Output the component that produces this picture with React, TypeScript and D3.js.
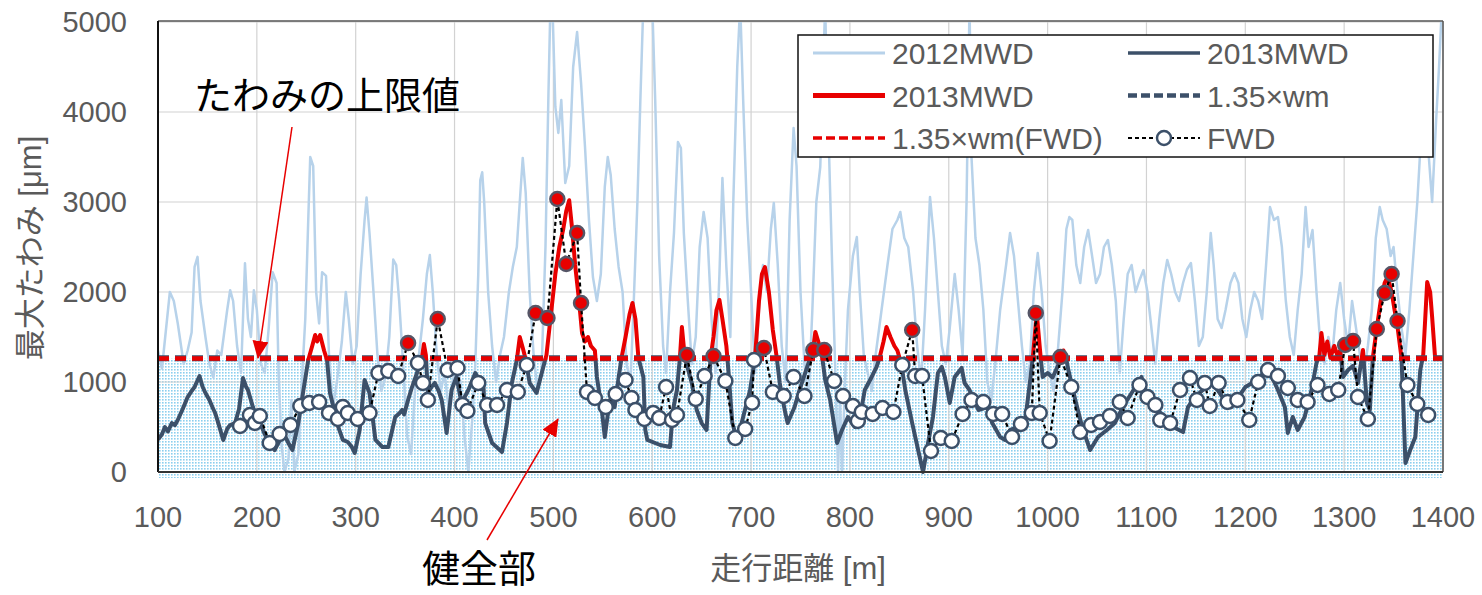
import * as d3 from "d3";

// distance [m] / deflection [um]
const xTicks = [100, 200, 300, 400, 500, 600, 700, 800, 900, 1000, 1100, 1200, 1300, 1400];
const yTicks = [0, 1000, 2000, 3000, 4000, 5000];
const wmLimit = 1265;
const wmLimitFwd = 1260;

const mwd2012 = [
  [100, 1350], [104, 1150], [112, 2000], [116, 1900], [120, 1650], [126, 1200], [130, 1350], [134, 1550],
  [137, 2280], [140, 2390], [143, 1900], [148, 1500], [152, 1200], [156, 1050], [160, 1350], [164, 1300],
  [170, 1800], [173, 2020], [176, 1900], [180, 1400], [184, 1100], [188, 2320], [191, 1700], [194, 1500],
  [197, 2020], [200, 1800], [204, 1200], [208, 1100], [212, 1600], [216, 2220], [220, 2100], [222, 1100],
  [225, 300], [228, 0], [232, 150], [235, 800], [238, 0], [242, 200], [246, 1100], [249, 1700],
  [252, 2800], [254, 3500], [257, 3400], [260, 2000], [263, 1650], [266, 2220], [270, 2180], [273, 1300],
  [277, 720], [281, 1000], [286, 1450], [290, 2000], [293, 1700], [297, 1200], [301, 1400], [305, 2200],
  [309, 2800], [311, 3050], [314, 2650], [318, 2000], [322, 1300], [326, 900], [330, 1050], [334, 1500],
  [338, 2360], [341, 2300], [344, 1900], [348, 1200], [352, 400], [356, 200], [360, 900], [364, 1300],
  [368, 1700], [372, 2200], [375, 2410], [378, 2000], [382, 1300], [386, 900], [390, 1100], [394, 700],
  [398, 1000], [402, 1200], [406, 1000], [410, 400], [414, 0], [418, 600], [421, 1200], [424, 2200],
  [426, 3240], [428, 3330], [430, 3000], [434, 2000], [438, 1400], [442, 1000], [446, 1300], [450, 1500],
  [455, 2000], [459, 2280], [463, 2500], [466, 3000], [469, 3490], [472, 3100], [476, 2000], [480, 1300],
  [484, 900], [488, 1100], [492, 2500], [495, 4200], [497, 5200], [499, 5200], [502, 4056], [505, 3767],
  [508, 4133], [512, 3211], [516, 3400], [520, 4500], [524, 4889], [528, 4322], [532, 3611], [536, 2800],
  [540, 2167], [544, 1900], [548, 2200], [552, 3167], [555, 3500], [558, 3300], [562, 2700], [566, 2278],
  [570, 2000], [574, 1200], [578, 1000], [581, 1800], [585, 3000], [588, 4133], [591, 5200], [596, 5200],
  [600, 5200], [603, 4133], [607, 2400], [611, 1400], [614, 1100], [618, 2000], [622, 2656], [626, 3667],
  [629, 3600], [632, 2650], [636, 1900], [640, 1200], [644, 1500], [648, 2500], [652, 2890], [656, 2600],
  [660, 1700], [664, 1100], [668, 2200], [671, 3267], [675, 2278], [679, 1500], [682, 3000], [686, 4500],
  [689, 5200], [692, 4133], [696, 2833], [700, 2000], [704, 1100], [708, 1800], [712, 2300], [716, 2000],
  [720, 2700], [723, 2989], [727, 2300], [731, 1400], [735, 1000], [739, 2800], [743, 3822], [746, 3400],
  [750, 2000], [754, 1200], [758, 800], [762, 1800], [766, 3000], [770, 3389], [773, 4500], [775, 5200],
  [777, 4000], [779, 3500], [782, 2300], [785, 1200], [788, 0], [790, 800], [792, 0], [795, 1000],
  [798, 1800], [803, 2400], [807, 2611], [810, 2000], [814, 1300], [818, 1100], [822, 900], [826, 1300],
  [832, 1800], [838, 2300], [843, 2700], [848, 2800], [851, 2889], [855, 2600], [859, 2500], [864, 2000],
  [868, 1400], [872, 1000], [876, 1800], [881, 3056], [885, 2600], [889, 2000], [893, 1400], [897, 1200],
  [901, 1600], [906, 2200], [910, 1800], [914, 1300], [918, 3000], [921, 5200], [923, 3500], [927, 2600],
  [931, 2300], [935, 1800], [939, 1000], [943, 800], [947, 1200], [952, 1800], [958, 2300], [962, 2656],
  [966, 2400], [970, 1900], [974, 1400], [978, 1000], [982, 1200], [986, 2000], [990, 2433], [994, 2000],
  [998, 1400], [1002, 1100], [1006, 900], [1010, 1300], [1015, 2000], [1019, 2700], [1022, 2833], [1025, 2800],
  [1029, 2300], [1033, 2100], [1037, 2500], [1041, 2689], [1045, 2400], [1049, 2100], [1053, 2200], [1057, 2500],
  [1061, 2578], [1065, 2300], [1069, 1900], [1073, 1100], [1077, 1700], [1081, 2200], [1085, 2300], [1089, 2000],
  [1093, 2133], [1097, 2244], [1101, 2000], [1105, 1600], [1109, 1200], [1113, 1700], [1117, 2100], [1121, 2356],
  [1125, 2200], [1129, 2000], [1133, 1900], [1137, 2100], [1141, 2250], [1145, 2322], [1149, 1900], [1153, 1400],
  [1157, 1500], [1161, 2000], [1165, 2656], [1168, 2300], [1172, 1700], [1176, 1600], [1180, 1800], [1185, 2100],
  [1189, 2211], [1193, 2100], [1197, 1700], [1201, 1500], [1205, 1800], [1209, 2000], [1213, 1900], [1217, 1700],
  [1221, 2300], [1225, 2944], [1229, 2800], [1233, 2833], [1237, 2500], [1241, 1900], [1245, 1500], [1249, 1300],
  [1253, 1800], [1257, 2200], [1261, 2944], [1264, 2500], [1268, 2689], [1272, 2000], [1276, 1400], [1280, 1200],
  [1284, 1500], [1288, 1300], [1292, 1800], [1296, 2100], [1300, 1700], [1304, 1400], [1308, 1900], [1312, 1600],
  [1316, 1300], [1320, 1100], [1324, 1400], [1328, 1800], [1332, 2600], [1336, 2944], [1339, 2800], [1343, 2700],
  [1347, 2400], [1350, 2500], [1354, 2000], [1358, 1600], [1362, 1300], [1366, 1800], [1370, 2400], [1374, 3000],
  [1377, 3578], [1379, 4689], [1382, 4200], [1385, 3600], [1389, 3000], [1393, 3900], [1396, 4500], [1399, 5200],
];

const mwd2013 = [
  [100, 360], [104, 420], [107, 500], [110, 450], [114, 544], [117, 520], [120, 578], [125, 700], [130, 833],
  [134, 900], [137, 944], [142, 1067], [145, 950], [148, 878], [152, 800], [155, 722], [158, 650], [161, 544],
  [166, 356], [170, 480], [173, 522], [178, 544], [182, 700], [186, 1044], [189, 950], [191, 911], [196, 722],
  [200, 600], [205, 500], [208, 420], [211, 356], [218, 244], [223, 350], [228, 411], [232, 320], [236, 244],
  [242, 544], [247, 900], [252, 1244], [256, 1400], [259, 1522], [261, 1450], [264, 1522], [268, 1350],
  [271, 1244], [274, 878], [278, 700], [281, 544], [287, 356], [292, 333], [296, 280], [299, 211], [304, 467],
  [309, 1022], [314, 878], [320, 356], [327, 278], [333, 278], [340, 611], [344, 650], [347, 689], [349, 640],
  [353, 800], [357, 944], [362, 1100], [367, 1267], [369, 1422], [371, 1300], [373, 878], [377, 950], [380, 989],
  [384, 900], [387, 800], [392, 433], [397, 911], [402, 1056], [407, 767], [414, 911], [421, 1100], [426, 1000],
  [429, 1022], [431, 544], [438, 322], [448, 222], [453, 544], [458, 989], [463, 1244], [466, 1500], [469, 1380],
  [472, 1250], [476, 989], [483, 878], [489, 1133], [493, 1300], [497, 1700], [502, 2200], [506, 2500], [510, 2700],
  [513, 2900], [516, 3020], [519, 2700], [522, 2300], [526, 1900], [529, 1544], [532, 1450], [535, 1500],
  [538, 1400], [542, 1350], [544, 1056], [549, 689], [552, 389], [557, 800], [562, 722], [566, 1050], [569, 1270],
  [573, 1500], [577, 1750], [580, 1878], [583, 1700], [586, 1270], [591, 1056], [593, 467], [595, 356], [608, 300],
  [618, 278], [621, 689], [625, 911], [628, 1270], [630, 1611], [633, 1270], [640, 989], [645, 689], [650, 544],
  [655, 467], [659, 1270], [662, 1500], [665, 1800], [668, 1911], [671, 1700], [675, 1400], [677, 1133], [681, 544],
  [686, 356], [692, 611], [699, 911], [704, 1270], [708, 1900], [711, 2200], [714, 2278], [718, 2000], [722, 1578],
  [726, 1270], [729, 989], [734, 689], [737, 544], [744, 722], [749, 911], [758, 1211], [762, 1300], [765, 1556],
  [768, 1450], [772, 1270], [775, 1022], [780, 800], [787, 322], [792, 467], [798, 611], [805, 500], [812, 722],
  [815, 911], [822, 1056], [827, 1167], [830, 1270], [834, 1450], [837, 1611], [841, 1500], [845, 1400], [848, 1350],
  [852, 1200], [856, 911], [863, 544], [869, 244], [874, 0], [879, 322], [884, 611], [889, 1100], [893, 1167],
  [896, 1056], [901, 767], [906, 1056], [913, 1156], [916, 989], [921, 911], [930, 689], [939, 722], [944, 544],
  [952, 389], [957, 356], [962, 467], [970, 500], [977, 544], [982, 989], [985, 1270], [989, 1767], [993, 1270],
  [995, 1056], [1000, 1100], [1005, 1050], [1010, 1167], [1013, 1250], [1016, 1350], [1019, 1250], [1021, 1133],
  [1028, 800], [1035, 500], [1043, 244], [1051, 389], [1060, 467], [1068, 544], [1076, 722], [1085, 878],
  [1095, 1056], [1101, 833], [1110, 722], [1119, 578], [1127, 500], [1137, 444], [1142, 722], [1149, 833],
  [1157, 911], [1166, 989], [1172, 911], [1179, 800], [1186, 722], [1193, 833], [1200, 944], [1207, 989],
  [1213, 1056], [1220, 1100], [1227, 1056], [1233, 911], [1240, 722], [1243, 433], [1248, 611], [1253, 467],
  [1260, 611], [1267, 911], [1272, 1211], [1275, 1300], [1277, 1544], [1280, 1300], [1283, 1450], [1286, 1270],
  [1290, 1400], [1293, 1300], [1296, 1350], [1299, 1056], [1304, 1133], [1309, 1180], [1314, 989], [1319, 1356],
  [1323, 767], [1326, 689], [1329, 1270], [1333, 1600], [1337, 1900], [1341, 2100], [1344, 2167], [1348, 2000],
  [1351, 1800], [1354, 1611], [1358, 1270], [1360, 700], [1362, 100], [1367, 250], [1372, 389], [1377, 1133],
  [1380, 1300], [1382, 1700], [1384, 2111], [1387, 2000], [1389, 1722], [1392, 1270], [1399, 1270],
];

const fwd = [
  [183, 511], [193, 633], [198, 544], [203, 622], [213, 322], [223, 422], [234, 522], [244, 733], [253, 767],
  [263, 778], [273, 656], [282, 589], [287, 722], [292, 656], [302, 589], [314, 656], [323, 1100], [333, 1122],
  [343, 1067], [353, 1433], [363, 1211], [368, 989], [373, 800], [383, 1700], [393, 1133], [403, 1156], [408, 744],
  [413, 678], [424, 989], [433, 744], [443, 744], [453, 911], [464, 889], [473, 1189], [482, 1767], [494, 1711],
  [504, 3033], [513, 2311], [524, 2656], [528, 1878], [534, 889], [542, 822], [553, 722], [563, 867], [573, 1022],
  [579, 822], [583, 689], [592, 589], [601, 656], [607, 600], [614, 944], [620, 578], [625, 633], [635, 1300],
  [644, 811], [653, 1067], [662, 1289], [674, 1011], [684, 378], [694, 478], [701, 770], [703, 1244], [713, 1378],
  [722, 889], [733, 844], [743, 1056], [754, 844], [763, 1356], [774, 1356], [784, 1011], [793, 844], [803, 733],
  [808, 567], [812, 667], [823, 644], [833, 711], [844, 667], [853, 1189], [863, 1578], [866, 1067], [873, 1067],
  [882, 233], [892, 378], [903, 344], [914, 644], [923, 800], [935, 778], [945, 644], [954, 644], [964, 389],
  [973, 533], [984, 656], [988, 1767], [992, 656], [1002, 344], [1013, 1278], [1024, 944], [1033, 444], [1044, 522],
  [1053, 556], [1063, 622], [1073, 778], [1081, 600], [1093, 967], [1101, 833], [1109, 744], [1114, 578],
  [1124, 544], [1134, 911], [1144, 1044], [1151, 800], [1159, 989], [1164, 733], [1173, 989], [1182, 778],
  [1192, 800], [1204, 578], [1213, 1000], [1223, 1133], [1233, 1067], [1243, 933], [1253, 800], [1263, 778],
  [1273, 967], [1285, 867], [1294, 911], [1301, 1411], [1309, 1456], [1314, 833], [1324, 589], [1333, 1589],
  [1341, 1989], [1348, 2200], [1354, 1678], [1364, 967], [1374, 756], [1385, 633],
];

const NAVY = "#3c5069";
const RED = "#e80000";
const LIGHT = "#b7d2ea";
const GRAY = "#5a5a5a";

const legendItems = [
  { label: "2012MWD", col: 0, row: 0, kind: "light" },
  { label: "2013MWD", col: 1, row: 0, kind: "navy" },
  { label: "2013MWD", col: 0, row: 1, kind: "red" },
  { label: "1.35×wm", col: 1, row: 1, kind: "navyDash" },
  { label: "1.35×wm(FWD)", col: 0, row: 2, kind: "redDash" },
  { label: "FWD", col: 1, row: 2, kind: "fwd" },
];

export default function App() {
  const x = d3.scaleLinear().domain([100, 1400]).range([158, 1443]);
  const y = d3.scaleLinear().domain([0, 5000]).range([472, 22]);
  const line = d3.line<number[]>().x((d) => x(d[0])).y((d) => y(d[1]));
  const [x0, x1] = x.range();
  const yT = y(wmLimitFwd);

  const legendLine = (kind: string, lx: number, ly: number) => {
    const x2 = lx + 72;
    if (kind === "light") return <line x1={lx} x2={x2} y1={ly} y2={ly} stroke={LIGHT} strokeWidth={3} />;
    if (kind === "navy") return <line x1={lx} x2={x2} y1={ly} y2={ly} stroke={NAVY} strokeWidth={3.5} />;
    if (kind === "red") return <line x1={lx} x2={x2} y1={ly} y2={ly} stroke={RED} strokeWidth={5} />;
    if (kind === "navyDash")
      return <line x1={lx} x2={x2} y1={ly} y2={ly} stroke={NAVY} strokeWidth={4.5} strokeDasharray="9,4" />;
    if (kind === "redDash")
      return <line x1={lx} x2={x2} y1={ly} y2={ly} stroke={RED} strokeWidth={3.5} strokeDasharray="9,4" />;
    return (
      <g>
        <line x1={lx} x2={x2} y1={ly} y2={ly} stroke="#000" strokeWidth={2} strokeDasharray="4,3" />
        <circle cx={lx + 36} cy={ly} r={7} fill="#fff" stroke={NAVY} strokeWidth={2.5} />
      </g>
    );
  };

  return (
    <svg
      width={1482}
      height={595}
      style={{ position: "absolute", left: 0, top: 0, background: "#fff" }}
      fontFamily="'Liberation Sans', Arial, 'Noto Sans CJK JP', sans-serif"
    >
      <defs>
        <pattern id="dots" width={3} height={3} patternUnits="userSpaceOnUse">
          <rect width={1.6} height={1.6} fill="#8ccfee" />
        </pattern>
        <clipPath id="plot">
          <rect x={x0} y={y(5000)} width={x1 - x0} height={y(0) - y(5000) + 3} />
        </clipPath>
        <clipPath id="above">
          <rect x={x0} y={0} width={x1 - x0} height={yT + 2} />
        </clipPath>
        <clipPath id="below">
          <rect x={x0} y={yT} width={x1 - x0} height={y(0) - yT + 3} />
        </clipPath>
        <marker id="arrow" viewBox="0 0 18 16" refX={17} refY={8} markerWidth={18} markerHeight={16}
          markerUnits="userSpaceOnUse" orient="auto">
          <path d="M0,0 L18,8 L0,16 Z" fill={RED} />
        </marker>
      </defs>

      {/* healthy zone */}
      <rect x={x0} y={yT} width={x1 - x0} height={y(0) - yT + 6} fill="url(#dots)" />

      {/* grid */}
      {xTicks.map((t) => (
        <line key={"gx" + t} x1={x(t)} x2={x(t)} y1={y(5000)} y2={y(0)} stroke="#d2d2d2" strokeWidth={1.2} />
      ))}
      {yTicks.map((t) => (
        <line key={"gy" + t} x1={x0} x2={x1} y1={y(t)} y2={y(t)} stroke="#d2d2d2" strokeWidth={1.2} />
      ))}

      <g clipPath="url(#plot)" fill="none" strokeLinejoin="round">
        <path d={line(mwd2012) || ""} stroke={LIGHT} strokeWidth={2.5} />
        <path d={line(mwd2013) || ""} stroke={NAVY} strokeWidth={4} clipPath="url(#below)" />
        <g clipPath="url(#above)">
          <path d={line(mwd2013) || ""} stroke={RED} strokeWidth={4} />
        </g>
        <line x1={x0} x2={x1} y1={y(wmLimit)} y2={y(wmLimit)} stroke={NAVY} strokeWidth={6} strokeDasharray="11,6" />
        <line x1={x0} x2={x1} y1={yT} y2={yT} stroke={RED} strokeWidth={4.5} strokeDasharray="11,6" />
        <path d={line(fwd) || ""} stroke="#000" strokeWidth={2.2} strokeDasharray="4,3" />
        {fwd.map((d, i) => (
          <circle key={i} cx={x(d[0])} cy={y(d[1])} r={7}
            fill={d[1] > wmLimitFwd ? RED : "#fff"}
            stroke={d[1] > wmLimitFwd ? "#555566" : NAVY} strokeWidth={2.5} />
        ))}
      </g>

      {/* frame */}
      <line x1={x0} x2={x1} y1={y(5000) - 1} y2={y(5000) - 1} stroke="#555" strokeWidth={1.5} />
      <line x1={x1} x2={x1} y1={y(5000) - 1} y2={y(0)} stroke="#555" strokeWidth={1.5} />
      <line x1={x0} x2={x0} y1={y(5000) - 1} y2={y(0)} stroke="#111" strokeWidth={2} />
      <line x1={x0} x2={x1} y1={y(0)} y2={y(0)} stroke="#333" strokeWidth={2} />

      {/* ticks */}
      {yTicks.map((t) => (
        <text key={"ty" + t} x={127} y={y(t) + 10} textAnchor="end" fontSize={29} fill={GRAY}>
          {t}
        </text>
      ))}
      {xTicks.map((t) => (
        <text key={"tx" + t} x={x(t)} y={527} textAnchor="middle" fontSize={29} fill={GRAY}>
          {t}
        </text>
      ))}
      <text x={798} y={579} textAnchor="middle" fontSize={31} fill={GRAY}>
        走行距離 [m]
      </text>
      <text transform="translate(41,248) rotate(-90)" textAnchor="middle" fontSize={31} fill={GRAY}>
        最大たわみ [μm]
      </text>

      {/* legend */}
      <rect x={798} y={35} width={635} height={122} fill="#fff" stroke="#111" strokeWidth={1.5} />
      {legendItems.map((it, i) => {
        const lx = it.col === 0 ? 813 : 1128;
        const ly = 53 + it.row * 42.5;
        return (
          <g key={i}>
            {legendLine(it.kind, lx, ly)}
            <text x={lx + 79} y={ly + 11} fontSize={30} fill={GRAY}>
              {it.label}
            </text>
          </g>
        );
      })}

      {/* annotations */}
      <text x={194} y={109} fontSize={38} fill="#000" fontFamily="'Noto Sans CJK JP', sans-serif">
        たわみの上限値
      </text>
      <line x1={292} y1={127} x2={258} y2={358} stroke={RED} strokeWidth={1.5} markerEnd="url(#arrow)" />
      <text x={422} y={582} fontSize={38} fill="#000" fontFamily="'Noto Sans CJK JP', sans-serif">
        健全部
      </text>
      <line x1={487} y1={540} x2={558} y2={419} stroke={RED} strokeWidth={1.5} markerEnd="url(#arrow)" />
    </svg>
  );
}
